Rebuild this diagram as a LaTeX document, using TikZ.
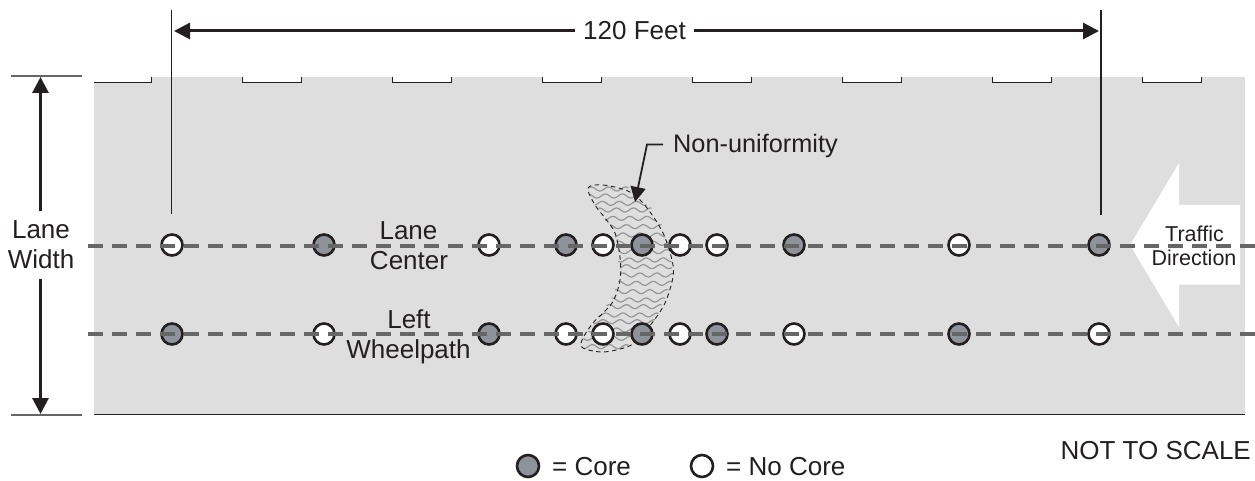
\documentclass[tikz,border=0pt]{standalone}
\usepackage{fontspec}
\setmainfont{Liberation Sans}
\usetikzlibrary{arrows.meta}
\definecolor{ink}{HTML}{231F20}
\definecolor{lanebg}{HTML}{DEDEDE}
\definecolor{dashgray}{HTML}{666666}
\definecolor{corefill}{HTML}{8F9299}
\definecolor{wavecol}{HTML}{969696}
\tikzset{
  lbl/.style={inner sep=0pt,anchor=base,text=ink,font=\fontsize{26}{26}\selectfont},
  smalllbl/.style={inner sep=0pt,anchor=base,text=ink,font=\fontsize{21.5}{22}\selectfont},
  hole/.style={circle,minimum size=21pt,inner sep=0pt,line width=2.6pt,draw=ink},
  core/.style={hole,fill=corefill},
  nocore/.style={hole,fill=white},
  centerline/.style={draw=dashgray,line width=4pt,dash pattern=on 15pt off 9pt},
  dimline/.style={draw=ink,line width=3pt,-{Triangle[length=16pt,width=16pt]}},
  thin rule/.style={draw=ink,line width=1.2pt},
  greyrule/.style={draw=black!60,line width=1.6pt},
  notch/.style={draw=ink,line width=1pt},
}
\begin{document}
\begin{tikzpicture}[x=1pt,y=-1pt]
\useasboundingbox (0,0) rectangle (1255,481);
% pavement
\fill[lanebg] (94,77) rectangle (1245,414);
\draw[thin rule] (94,414.5) -- (1245,414.5);
% joints at the top edge
\fill[white] (94,77) rectangle (151,83);
\draw[notch] (94,83) -- (151,83) -- (151,77);
\foreach \xa in {242,392,542,692,842,992,1142}{
  \fill[white] (\xa,77) rectangle (\xa+59,83);
  \draw[notch] (\xa,77) -- (\xa,83) -- (\xa+59,83) -- (\xa+59,77);
}
% traffic arrow
\fill[white] (1130,245) -- (1179,163) -- (1179,205) -- (1240,205) -- (1240,284.5) -- (1179,284.5) -- (1179,327) -- cycle;
% non-uniformity patch
\foreach \zy/\zl/\zr in {207/145/265,228/150/305,250/165/320,270/175/335,295/195/345,320/210/365,345/225/375,370/230/385,395/235/390,420/235/395,440/240/395,465/240/400,490/235/395,515/225/385,540/215/375,560/200/365,585/175/355,605/160/345,630/145/320,655/130/300,680/130/265}{
  \draw[wavecol,line width=1.2pt] plot[domain=\zl:\zr,samples=36,smooth] ({540+\x/3},{120+\zy/3+2*sin(\x*7.06+\zy*3)});
}
\draw[ink,line width=0.9pt,dash pattern=on 4.5pt off 3.5pt] plot[smooth cycle,tension=0.55] coordinates {(588,188)(603,185)(630,192)(647,208)(663,233)(672,260)(673,277)(665,303)(652,323)(637,340)(627,347)(603,352)(583,348)(582,340)(593,323)(612,303)(620,280)(620,257)(615,233)(605,218)(595,205)};
% holes
\foreach \n/\xc/\sty in {a/172/nocore,b/324/core,c/489/nocore,d/566/core,e/603/nocore,f/642/core,g/680/nocore,h/717/nocore,i/794/core,j/959/nocore,k/1099/core}{
  \node[\sty] (u\n) at (\xc,245) {};
}
\foreach \n/\xc/\sty in {a/172/core,b/324/nocore,c/489/core,d/566/nocore,e/603/nocore,f/642/core,g/680/nocore,h/717/core,i/794/nocore,j/959/core,k/1099/nocore}{
  \node[\sty] (l\n) at (\xc,334) {};
}
% centre lines
\coordinate (cu0) at (88,245.5);
\coordinate (cu1) at (1255,245.5);
\coordinate (cl0) at (88,334);
\coordinate (cl1) at (1255,334);
\draw[centerline] (cu0) -- (cu1);
\draw[centerline] (cl0) -- (cl1);
% labels in the lane
\node[lbl] (lane) at (408.5,240) {Lane};
\node[lbl] (center) at (409,269) {Center};
\node[lbl] (left) at (409,328) {Left};
\node[lbl] (wheel) at (408.5,358) {Wheelpath};
\node[smalllbl] (traffic) at (1194.5,241) {Traffic};
\node[smalllbl] (direction) at (1194,265) {Direction};
% 120 feet dimension
\coordinate (v1t) at (171.5,10);
\coordinate (v1b) at (171.5,214);
\coordinate (v2t) at (1101,10);
\coordinate (v2b) at (1101,215);
\draw[thin rule] (v1t) -- (v1b);
\draw[thin rule] (v2t) -- (v2b);
\node[lbl] (feet) at (634.5,40) {120 Feet};
\coordinate (dl) at (174,31);
\coordinate (dr) at (1099,31);
\draw[dimline] (feet.west |- dl) ++(-8,0) -- (dl);
\draw[dimline] (feet.east |- dr) ++(8,0) -- (dr);
% lane width dimension
\coordinate (wt0) at (11,76);
\coordinate (wt1) at (82,76);
\coordinate (wb0) at (11,415);
\coordinate (wb1) at (82,415);
\draw[greyrule] (wt0) -- (wt1);
\draw[greyrule] (wb0) -- (wb1);
\node[lbl] (lanew) at (41,238) {Lane};
\node[lbl] (width) at (41,268) {Width};
\coordinate (at) at (40.5,77);
\coordinate (ab) at (40.5,414);
\coordinate (as) at (40.5,211);
\coordinate (ae) at (40.5,279);
\draw[dimline] (as) -- (at);
\draw[dimline] (ae) -- (ab);
% non-uniformity callout
\node[lbl,anchor=base west,font=\fontsize{25.3}{26}\selectfont] (nonu) at (673,153) {Non-uniformity};
\coordinate (nstart) at (663,144.5);
\coordinate (nbend) at (647,144.5);
\coordinate (ntip) at (635,202);
\draw[draw=ink,line width=1.8pt,-{Triangle[length=15pt,width=15pt]}] (nstart) -- (nbend) -- (ntip);
% legend
\node[core,minimum size=22pt] (lgcore) at (528,466) {};
\node[lbl,anchor=base west] (lgcoret) at (552,475) {= Core};
\node[nocore,minimum size=22pt] (lgno) at (702,466) {};
\node[lbl,anchor=base west] (lgnot) at (726,475) {= No Core};
\node[lbl,anchor=base east] (scale) at (1251,459) {NOT TO SCALE};
\end{tikzpicture}
\end{document}
